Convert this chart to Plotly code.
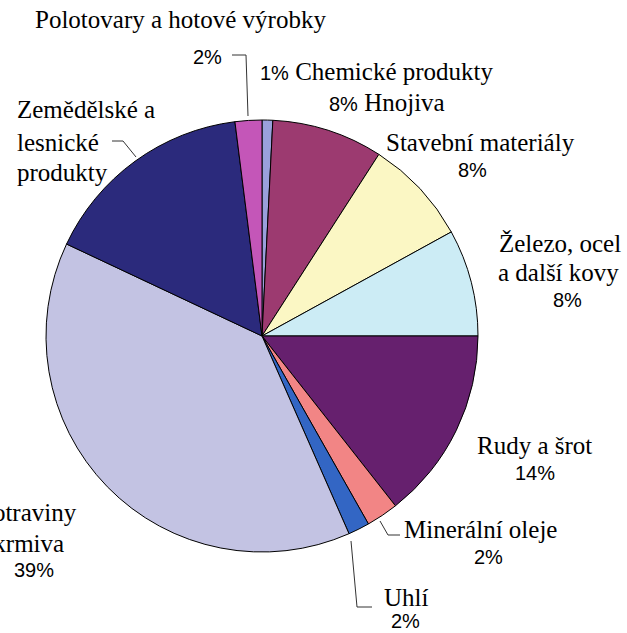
import plotly.graph_objects as go

W, H = 627, 633

categories = ["Chemické produkty", "Hnojiva", "Stavební materiály",
              "Železo, ocel a další kovy", "Rudy a šrot", "Minerální oleje",
              "Uhlí", "Potraviny a krmiva", "Zemědělské a lesnické produkty",
              "Polotovary a hotové výrobky"]
values = [0.8, 8.3, 7.9, 8.0, 14.4, 2.4, 1.6, 38.6, 16.0, 2.0]
colors = ["#9aa0dc", "#9c3a70", "#fbf7c4", "#ccecf5", "#66206e", "#f28585",
          "#3366c4", "#c3c3e3", "#2b2a7c", "#c456b8"]

total = sum(values)
pct = [f"{round(v / total * 100)}%" for v in values]

SERIF = "Liberation Serif"
SANS = "Liberation Sans"
SERIF_SIZE = 25
SANS_SIZE = 20


def px(x, y):
    return x / W, 1 - y / H


cx, cy, r = 262, 336, 216
x0, y1 = px(cx - r, cy - r)
x1, y0 = px(cx + r, cy + r)
fig = go.Figure(go.Pie(
    labels=categories, values=values, sort=False, direction="clockwise",
    rotation=0, textinfo="none", hoverinfo="skip",
    marker=dict(colors=colors, line=dict(color="black", width=1)),
    domain=dict(x=[x0, x1], y=[y0, y1]),
    showlegend=False,
))


def sans(t):
    return f'<span style="font-family:{SANS};font-size:{SANS_SIZE}px">{t}</span>'


# each text line: (x, y, text, xanchor, is_pct)
lines = [
    (180, 20, categories[9], "center", False),
    (207, 57, pct[9], "center", True),
    (258, 72, sans(pct[0]) + " " + categories[0], "left", False),
    (327, 103, sans(pct[1]) + " " + categories[1], "left", False),
    (480, 143, categories[2], "center", False),
    (472, 170, pct[2], "center", True),
    (560, 243, "Železo, ocel", "center", False),
    (558, 272, "a další kovy", "center", False),
    (567, 300, pct[3], "center", True),
    (534, 445, categories[4], "center", False),
    (535, 473, pct[4], "center", True),
    (402, 529, categories[5], "left", False),
    (488, 557, pct[5], "center", True),
    (406, 597, categories[6], "center", False),
    (405, 621, pct[6], "center", True),
    (79, 512, "Potraviny", "right", False),
    (66, 543, "a krmiva", "right", False),
    (34, 570, pct[7], "center", True),
    (15, 110, "Zemědělské a", "left", False),
    (15, 142, "lesnické", "left", False),
    (15, 172, "produkty", "left", False),
]
for x, y, t, xa, is_pct in lines:
    xp, yp = px(x, y)
    fig.add_annotation(x=xp, y=yp, xref="paper", yref="paper", text=t,
                       showarrow=False, xanchor=xa, yanchor="middle",
                       font=dict(family=SANS if is_pct else SERIF,
                                 size=SANS_SIZE if is_pct else SERIF_SIZE,
                                 color="black"))

leaders = [
    [(232, 55), (246, 55), (248, 116)],
    [(112, 141), (123, 141), (136, 157)],
    [(380, 521), (388, 535), (400, 535)],
    [(351, 541), (357, 607), (372, 607)],
]
for pts in leaders:
    path = ""
    for i, (x, y) in enumerate(pts):
        xp, yp = px(x, y)
        path += ("M" if i == 0 else "L") + f"{xp},{yp} "
    fig.add_shape(type="path", path=path.strip(), xref="paper", yref="paper",
                  line=dict(color="#333333", width=1))

fig.update_layout(width=W, height=H, margin=dict(l=0, r=0, t=0, b=0),
                  paper_bgcolor="white", plot_bgcolor="white")
fig.write_html("out.html", config={"displayModeBar": False},
               post_script="document.body.style.margin='0';"
                           "document.body.style.overflow='hidden';")
